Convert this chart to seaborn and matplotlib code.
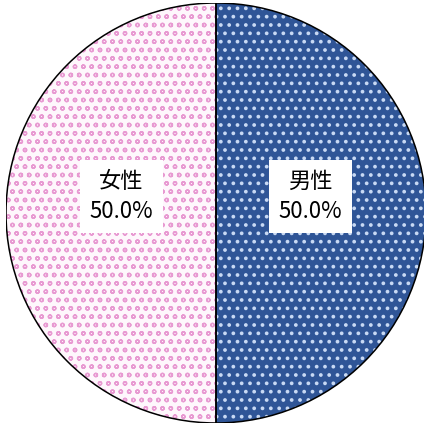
import matplotlib
matplotlib.use("Agg")
import matplotlib.pyplot as plt
import seaborn as sns
import numpy as np
from matplotlib.patches import Wedge

categories = ["男性", "女性"]
values = [50.0, 50.0]
fill_colors = ["#2F5597", "#FEF7FC"]
hatch_colors = ["#C8D9F4", "#E89AD2"]
hatches = ["..", "oo"]
hatch_lws = [1.5, 1.0]

sns.set_theme(style="white")
plt.rcParams['font.family'] = ['Noto Sans CJK JP', 'DejaVu Sans']

fig = plt.figure(figsize=(4.24, 4.25), dpi=100)
ax = fig.add_axes([6/424, 2/425, 420/424, 420/425])

labels = [f"{c}\n{v:.1f}%" for c, v in zip(categories, values)]
wedges, texts = ax.pie(values, labels=labels, startangle=90, counterclock=False,
                       colors=fill_colors, labeldistance=0.45,
                       wedgeprops=dict(linewidth=0),
                       textprops=dict(fontsize=16, ha="center", va="center",
                                      linespacing=1.4, color="black"))
for w, hc, h, hl in zip(wedges, hatch_colors, hatches, hatch_lws):
    w.set_hatch(h)
    w.set_edgecolor(hc)
    w.set_linewidth(0)
    if hasattr(w, "set_hatch_linewidth"):
        w.set_hatch_linewidth(hl)
    outline = Wedge(w.center, w.r, w.theta1, w.theta2, facecolor="none",
                    edgecolor="black", linewidth=1.1, zorder=3)
    ax.add_patch(outline)
for t in texts:
    x, y = t.get_position()
    t.set_position((x, y + 0.08))
    t.set_bbox(dict(facecolor="white", edgecolor="none", boxstyle="square,pad=0.45"))
    t.set_zorder(5)

ax.set_xlim(-1, 1)
ax.set_ylim(-1, 1)
ax.set_aspect("equal")
ax.axis("off")
fig.savefig("out.png", dpi=100)
